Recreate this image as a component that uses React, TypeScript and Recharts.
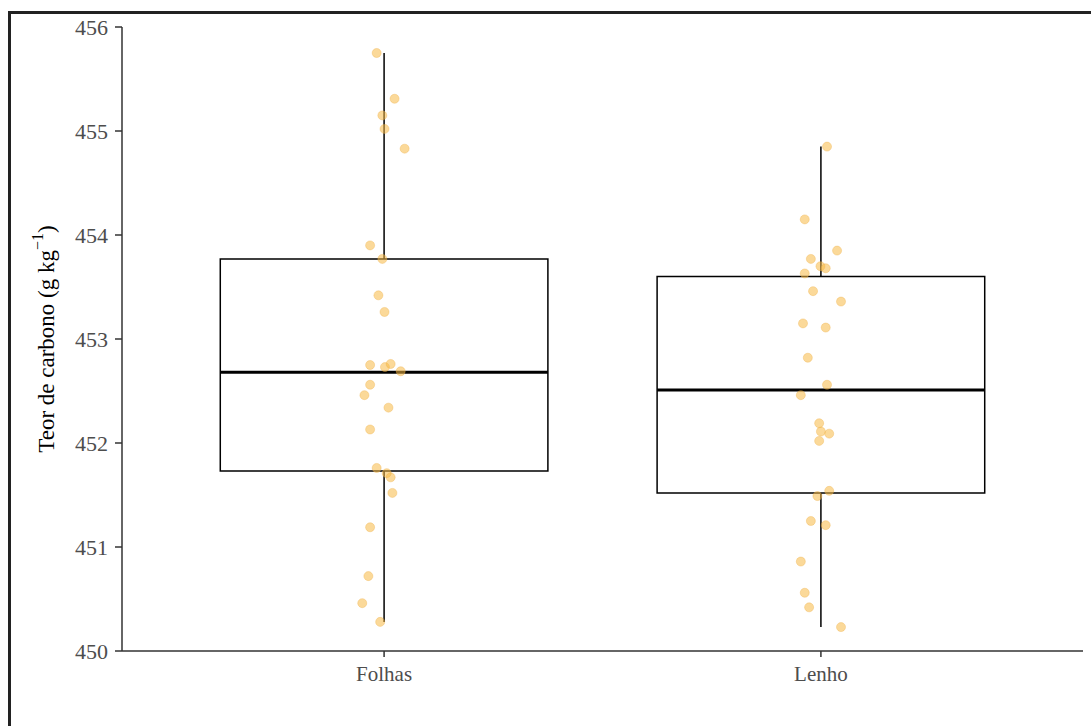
import { ComposedChart, ReferenceArea, ReferenceLine, Scatter, XAxis, YAxis, ZAxis } from "recharts";

const categories = ["Folhas", "Lenho"];
const yTicks = [450, 451, 452, 453, 454, 455, 456];

// box stats per category: lower whisker, q1, median, q3, upper whisker
const whiskerLow = [450.28, 450.23];
const q1 = [451.73, 451.52];
const median = [452.68, 452.51];
const q3 = [453.77, 453.6];
const whiskerHigh = [455.75, 454.85];

// jittered points
const folhasX = [
  0.983, 1.024, 0.996, 1.001, 1.047, 0.968, 0.996, 0.987, 1.001, 0.968, 1.002, 1.015, 1.038,
  0.968, 0.955, 1.01, 0.968, 0.983, 1.006, 1.015, 1.019, 0.968, 0.964, 0.95, 0.991
];
const folhasY = [
  455.75, 455.31, 455.15, 455.02, 454.83, 453.9, 453.77, 453.42, 453.26, 452.75, 452.73, 452.76,
  452.69, 452.56, 452.46, 452.34, 452.13, 451.76, 451.71, 451.67, 451.52, 451.19, 450.72, 450.46,
  450.28
];
const lenhoX = [
  2.014, 1.963, 2.037, 1.977, 1.999, 2.011, 1.963, 1.982, 2.046, 1.959, 2.011, 1.97, 2.014, 1.954,
  1.996, 2.0, 2.019, 1.996, 1.992, 2.019, 1.977, 2.011, 1.954, 1.963, 1.973, 2.046
];
const lenhoY = [
  454.85, 454.15, 453.85, 453.77, 453.7, 453.68, 453.63, 453.46, 453.36, 453.15, 453.11, 452.82,
  452.56, 452.46, 452.19, 452.11, 452.09, 452.02, 451.49, 451.54, 451.25, 451.21, 450.86, 450.56,
  450.42, 450.23
];

const folhasData = folhasX.map((x, i) => ({ x, y: folhasY[i] }));
const lenhoData = lenhoX.map((x, i) => ({ x, y: lenhoY[i] }));

const FONT = "Liberation Serif, DejaVu Serif, serif";
const BOX_HALF = 0.375;

const YLabel = (props: any) => {
  const vb = props.viewBox || { x: 62, y: 27, width: 60, height: 624 };
  const cx = 46;
  const cy = vb.y + vb.height / 2;
  return (
    <text
      x={cx}
      y={cy}
      transform={`rotate(-90, ${cx}, ${cy})`}
      textAnchor="middle"
      dominantBaseline="central"
      fontFamily={FONT}
      fontSize={23}
      fill="#000"
    >
      Teor de carbono (g kg
      <tspan dy={-9} fontSize={16}>
        −1
      </tspan>
      <tspan dy={9}>)</tspan>
    </text>
  );
};

export default function App() {
  return (
    <div>
      <div
        style={{
          position: "absolute",
          left: 8,
          top: 11,
          width: 1083,
          height: 715,
          borderTop: "3px solid #222",
          borderLeft: "3px solid #222",
          boxSizing: "border-box"
        }}
      />
      <div style={{ position: "absolute", left: 0, top: 0 }}>
        <ComposedChart
          width={1091}
          height={726}
          margin={{ top: 27, right: 8, bottom: 45, left: 62 }}
          style={{ fontFamily: FONT }}
        >
          <XAxis
            type="number"
            dataKey="x"
            domain={[0.4, 2.6]}
            ticks={[1, 2]}
            allowDataOverflow
            tickFormatter={(v: number) => categories[Math.round(v) - 1]}
            height={30}
            tickSize={6}
            tickMargin={9}
            axisLine={{ stroke: "#333", strokeWidth: 1.5 }}
            tickLine={{ stroke: "#333", strokeWidth: 1.5 }}
            tick={{ fill: "#4d4d4d", fontFamily: FONT, fontSize: 21 }}
          />
          <YAxis
            type="number"
            dataKey="y"
            domain={[450, 456]}
            ticks={yTicks}
            allowDataOverflow
            width={60}
            tickSize={7}
            tickMargin={7}
            axisLine={{ stroke: "#333", strokeWidth: 1.5 }}
            tickLine={{ stroke: "#333", strokeWidth: 1.5 }}
            tick={{ fill: "#4d4d4d", fontFamily: FONT, fontSize: 22 }}
            label={{ content: YLabel }}
          />
          <ZAxis range={[80, 80]} />
          {categories.map((c, i) => (
            <ReferenceArea
              key={`box-${c}`}
              x1={i + 1 - BOX_HALF}
              x2={i + 1 + BOX_HALF}
              y1={q1[i]}
              y2={q3[i]}
              fill="none"
              fillOpacity={0}
              stroke="#000"
              strokeWidth={1.5}
            />
          ))}
          {categories.map((c, i) => (
            <ReferenceLine
              key={`wh-${c}`}
              segment={[
                { x: i + 1, y: q3[i] },
                { x: i + 1, y: whiskerHigh[i] }
              ]}
              stroke="#000"
              strokeWidth={1.5}
            />
          ))}
          {categories.map((c, i) => (
            <ReferenceLine
              key={`wl-${c}`}
              segment={[
                { x: i + 1, y: whiskerLow[i] },
                { x: i + 1, y: q1[i] }
              ]}
              stroke="#000"
              strokeWidth={1.5}
            />
          ))}
          {categories.map((c, i) => (
            <ReferenceLine
              key={`med-${c}`}
              segment={[
                { x: i + 1 - BOX_HALF, y: median[i] },
                { x: i + 1 + BOX_HALF, y: median[i] }
              ]}
              stroke="#000"
              strokeWidth={3}
            />
          ))}
          <Scatter
            data={folhasData}
            fill="#F7B946"
            fillOpacity={0.55}
            stroke="#EFAE45"
            strokeOpacity={0.35}
            isAnimationActive={false}
          />
          <Scatter
            data={lenhoData}
            fill="#F7B946"
            fillOpacity={0.55}
            stroke="#EFAE45"
            strokeOpacity={0.35}
            isAnimationActive={false}
          />
        </ComposedChart>
      </div>
    </div>
  );
}
